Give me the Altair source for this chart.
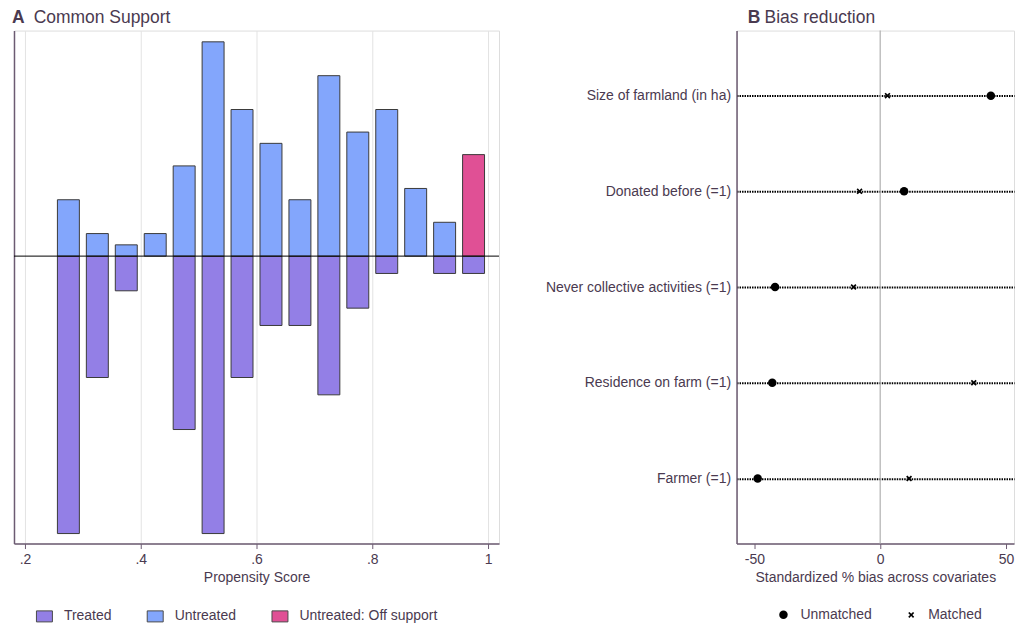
import altair as alt
import pandas as pd

FONT = "Liberation Sans"
TEXT = "#4a3a50"
AXIS = "#6c5b72"

# ---- Panel A: propensity score histogram (counts per 0.05 bin) ----
bin_centers = [0.275, 0.325, 0.375, 0.425, 0.475, 0.525, 0.575, 0.625,
               0.675, 0.725, 0.775, 0.825, 0.875, 0.925, 0.975]
treated_counts = [16, 7, 2, 0, 10, 16, 7, 4, 4, 8, 3, 1, 0, 1, 1]
untreated_counts = [5, 2, 1, 2, 8, 19, 13, 10, 5, 16, 11, 13, 6, 3, 0]
offsupport_counts = [0, 0, 0, 0, 0, 0, 0, 0, 0, 0, 0, 0, 0, 0, 9]
bin_width = 0.05
groups = ["Treated", "Untreated", "Untreated: Off support"]
group_colors = ["#937fe6", "#83a6fc", "#e05095"]
x_ticks_a = [0.2, 0.4, 0.6, 0.8, 1.0]

# ---- Panel B: standardized bias ----
variables = ["Size of farmland (in ha)", "Donated before (=1)",
             "Never collective activities (=1)", "Residence on farm (=1)",
             "Farmer (=1)"]
unmatched = [44.0, 9.5, -41.8, -42.9, -48.7]
matched = [2.9, -8.2, -10.6, 37.2, 11.5]
x_ticks_b = [-50, 0, 50]

# densities (each group normalized by its own total)
n_t = sum(treated_counts)
n_u = sum(untreated_counts) + sum(offsupport_counts)
rows = []
for c, t, u, o in zip(bin_centers, treated_counts, untreated_counts, offsupport_counts):
    if t:
        rows.append({"center": c, "density": -t / (n_t * bin_width), "group": groups[0]})
    if u:
        rows.append({"center": c, "density": u / (n_u * bin_width), "group": groups[1]})
    if o:
        rows.append({"center": c, "density": o / (n_u * bin_width), "group": groups[2]})
hist = pd.DataFrame(rows)

W_A, W_B, H = 486, 278, 514
SPACING = 238

bars = alt.Chart(hist).mark_bar(size=22, stroke="#3a3a3a", strokeWidth=1, opacity=1).encode(
    x=alt.X("center:Q",
            scale=alt.Scale(domain=[0.181, 1.019], nice=False, zero=False, padding=0),
            axis=alt.Axis(values=x_ticks_a,
                          labelExpr="datum.value == 1 ? '1' : replace(format(datum.value, '.1f'), '0.', '.')",
                          title="Propensity Score", grid=True, gridColor="#e3e3e3",
                          domainColor=AXIS, domainWidth=1.5, tickColor=AXIS, tickSize=5,
                          labelColor=TEXT, titleColor=TEXT, labelFontSize=14, titleFontSize=14,
                          titleFontWeight="normal", labelPadding=4, titlePadding=4,
                          labelFont=FONT, titleFont=FONT)),
    y=alt.Y("density:Q",
            scale=alt.Scale(domain=[-4.144, 3.252], nice=False, padding=0),
            axis=alt.Axis(labels=False, ticks=False, grid=False, title=None,
                          domainColor=AXIS, domainWidth=1.5)),
    color=alt.Color("group:N",
                    scale=alt.Scale(domain=groups, range=group_colors),
                    legend=alt.Legend(title=None, orient="none", legendX=22, legendY=578,
                                      direction="horizontal",
                                      symbolType="M-1,-0.69H1V0.69H-1Z", symbolSize=256,
                                      symbolStrokeColor="#4a4a4a", symbolStrokeWidth=1,
                                      symbolOpacity=1,
                                      labelFontSize=14, labelColor=TEXT, labelFont=FONT,
                                      labelOffset=11, columnPadding=33)),
)
zero_a = alt.Chart(pd.DataFrame({"y": [0]})).mark_rule(color="black", strokeWidth=1).encode(y="y:Q")

title_a1 = alt.Chart(pd.DataFrame({"t": ["A"]})).mark_text(
    align="left", baseline="alphabetic", fontSize=17.5, fontWeight="bold", color=TEXT, font=FONT
).encode(text="t:N", x=alt.value(-2), y=alt.value(-7.5))
title_a2 = alt.Chart(pd.DataFrame({"t": ["Common Support"]})).mark_text(
    align="left", baseline="alphabetic", fontSize=17.5, color=TEXT, font=FONT
).encode(text="t:N", x=alt.value(19.7), y=alt.value(-7.5))

panel_a = alt.layer(bars, zero_a, title_a1, title_a2).properties(width=W_A, height=H)

# ---- Panel B ----
bias = pd.DataFrame(
    [{"variable": v, "bias": u, "type": "Unmatched"} for v, u in zip(variables, unmatched)]
    + [{"variable": v, "bias": m, "type": "Matched"} for v, m in zip(variables, matched)]
)
# filled "x" glyph
XPATH = ("M-1,-0.6L-0.6,-1L0,-0.4L0.6,-1L1,-0.6L0.4,0L1,0.6L0.6,1"
         "L0,0.4L-0.6,1L-1,0.6L-0.4,0Z")
B_OFFSET = W_A + SPACING

zero_b = alt.Chart(pd.DataFrame({"x": [0]})).mark_rule(color="#b0b0b0", strokeWidth=1.2).encode(
    x=alt.X("x:Q", scale=alt.Scale(domain=[-57.1, 53.2], nice=False, zero=False))
)
legend_b = alt.Legend(title=None, orient="none", legendX=B_OFFSET + 40, legendY=578,
                      direction="horizontal",
                      symbolFillColor="black", symbolOpacity=1,
                      labelFontSize=14, labelColor=TEXT, labelFont=FONT,
                      labelOffset=10, columnPadding=32)
pts = alt.Chart(bias).mark_point(filled=True, opacity=1, color="black").encode(
    x=alt.X("bias:Q",
            scale=alt.Scale(domain=[-57.1, 53.2], nice=False, zero=False),
            axis=alt.Axis(values=x_ticks_b, title="Standardized % bias across covariates",
                          labelExpr="datum.value < 0 ? '-' + format(-datum.value, 'd') : format(datum.value, 'd')",
                          grid=False, domainColor=AXIS, domainWidth=1.5, tickColor=AXIS,
                          tickSize=5, labelColor=TEXT, titleColor=TEXT, labelFontSize=14,
                          titleFontSize=14, titleFontWeight="normal", labelPadding=4,
                          titlePadding=4, labelFont=FONT, titleFont=FONT)),
    y=alt.Y("variable:N", sort=variables,
            scale=alt.Scale(type="point", padding=0.68),
            axis=alt.Axis(title=None, ticks=False, grid=True, gridDash=[1.5, 1],
                          gridColor="black", gridWidth=2, labelFontSize=14,
                          labelColor=TEXT, labelFont=FONT, labelPadding=6,
                          domainColor=AXIS, domainWidth=1.5, labelLimit=400)),
    shape=alt.Shape("type:N",
                    scale=alt.Scale(domain=["Unmatched", "Matched"], range=["circle", XPATH]),
                    legend=legend_b),
    size=alt.Size("type:N",
                  scale=alt.Scale(domain=["Unmatched", "Matched"], range=[72, 36]),
                  legend=legend_b),
)
title_b1 = alt.Chart(pd.DataFrame({"t": ["B"]})).mark_text(
    align="left", baseline="alphabetic", fontSize=17.5, fontWeight="bold", color=TEXT, font=FONT
).encode(text="t:N", x=alt.value(11.3), y=alt.value(-7.5))
title_b2 = alt.Chart(pd.DataFrame({"t": ["Bias reduction"]})).mark_text(
    align="left", baseline="alphabetic", fontSize=17.5, color=TEXT, font=FONT
).encode(text="t:N", x=alt.value(28), y=alt.value(-7.5))

panel_b = alt.layer(zero_b, pts, title_b1, title_b2).properties(width=W_B, height=H)

chart = alt.HConcatChart(hconcat=[panel_a, panel_b], spacing=SPACING, bounds="flush").properties(
    padding={"left": 3, "top": 0, "right": 0, "bottom": 0}
).configure_view(stroke=None).configure(font=FONT, background="white")

chart.save("out.html", embed_options={"renderer": "svg", "actions": False})
